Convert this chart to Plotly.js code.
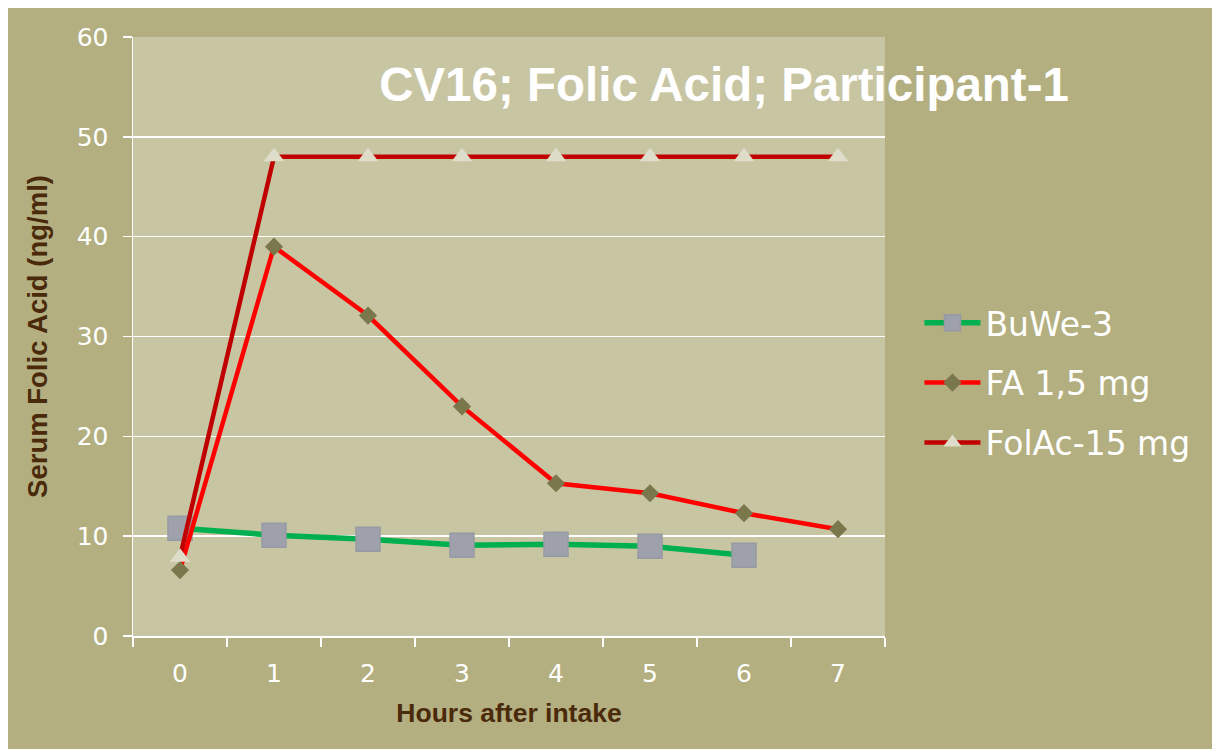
<!DOCTYPE html>
<html>
<head>
<meta charset="utf-8">
<script src="https://cdn.plot.ly/plotly-3.0.1.min.js"></script>
<style>
  html, body { margin: 0; padding: 0; background: #ffffff; }
  #chart { position: absolute; left: 8px; top: 8px; width: 1204px; height: 741px; }
</style>
</head>
<body>
<div id="chart"></div>
<script>
const hours = ["0", "1", "2", "3", "4", "5", "6", "7"];
const buwe3 = [10.8, 10.1, 9.7, 9.1, 9.2, 9.0, 8.1, null];
const fa15 = [6.6, 39.0, 32.1, 23.0, 15.3, 14.3, 12.3, 10.7];
const folac15 = [7.9, 48.0, 48.0, 48.0, 48.0, 48.0, 48.0, 48.0];
const seriesNames = ["BuWe-3", "FA 1,5 mg", "FolAc-15 mg"];
const yTicks = [0, 10, 20, 30, 40, 50, 60];

const traces = [
  {
    x: hours, y: buwe3, name: seriesNames[0], type: "scatter", mode: "lines+markers",
    legendgroup: "g1",
    line: { color: "#00b050", width: 5.5 },
    marker: { symbol: "square", size: 24, color: "#9ea1ab", line: { color: "#969aa4", width: 1.5 } },
    connectgaps: false
  },
  {
    x: hours, y: fa15, name: seriesNames[1], type: "scatter", mode: "lines+markers",
    legendgroup: "g2",
    line: { color: "#ff0000", width: 4.5 },
    marker: { symbol: "diamond", size: 14, color: "#7a774c" }
  },
  {
    x: hours, y: folac15, name: seriesNames[2], type: "scatter", mode: "lines+markers",
    legendgroup: "g3",
    line: { color: "#c00000", width: 4.5 },
    marker: { symbol: "triangle-up", size: 18, color: "#deddca" }
  }
];

const layout = {
  width: 1204, height: 741,
  paper_bgcolor: "#b3af80",
  plot_bgcolor: "#c8c5a2",
  margin: { l: 125, r: 327, t: 29, b: 113 },
  showlegend: true,
  title: {
    text: "CV16; Folic Acid; Participant-1",
    font: { family: "Liberation Sans, Arial, sans-serif", size: 47.5, color: "#ffffff", weight: "bold" },
    xref: "container", yref: "container",
    x: 0.5947, xanchor: "center",
    y: 0.897, yanchor: "middle"
  },
  xaxis: {
    type: "category",
    categoryorder: "array", categoryarray: hours,
    range: [-0.5, 7.5],
    tickson: "boundaries",
    ticks: "outside", ticklen: 9, tickwidth: 1.5, tickcolor: "#ffffff",
    showline: true, linecolor: "#ffffff", linewidth: 1.5,
    showgrid: false, zeroline: false,
    tickfont: { family: "DejaVu Sans, Verdana, sans-serif", size: 25, color: "#ffffff" },
    ticklabelstandoff: 14,
    title: {
      text: "Hours after intake",
      font: { family: "Liberation Sans, Arial, sans-serif", size: 26.5, color: "#4a2a0a", weight: "bold" },
      standoff: 17
    },
    fixedrange: true
  },
  yaxis: {
    range: [0, 60],
    tickvals: yTicks,
    ticktext: yTicks.map(String),
    ticks: "outside", ticklen: 9, tickwidth: 1.5, tickcolor: "#ffffff",
    showline: true, linecolor: "#ffffff", linewidth: 1.5,
    showgrid: true, gridcolor: "#ffffff", gridwidth: 1.5,
    zeroline: false,
    tickfont: { family: "DejaVu Sans, Verdana, sans-serif", size: 25, color: "#ffffff" },
    ticklabelstandoff: 9,
    title: {
      text: "Serum Folic Acid (ng/ml)",
      font: { family: "Liberation Sans, Arial, sans-serif", size: 27.5, color: "#4a2a0a", weight: "bold" },
      standoff: 21
    },
    fixedrange: true
  },
  legend: {
    xref: "container", yref: "container",
    x: 0.757, xanchor: "left",
    y: 0.613, yanchor: "top",
    bgcolor: "rgba(0,0,0,0)",
    font: { family: "DejaVu Sans, Verdana, sans-serif", size: 33, color: "#ffffff" },
    itemwidth: 56,
    traceorder: "grouped",
    tracegroupgap: 14
  }
};

Plotly.newPlot("chart", traces, layout, { displayModeBar: false, staticPlot: true });
</script>
</body>
</html>
